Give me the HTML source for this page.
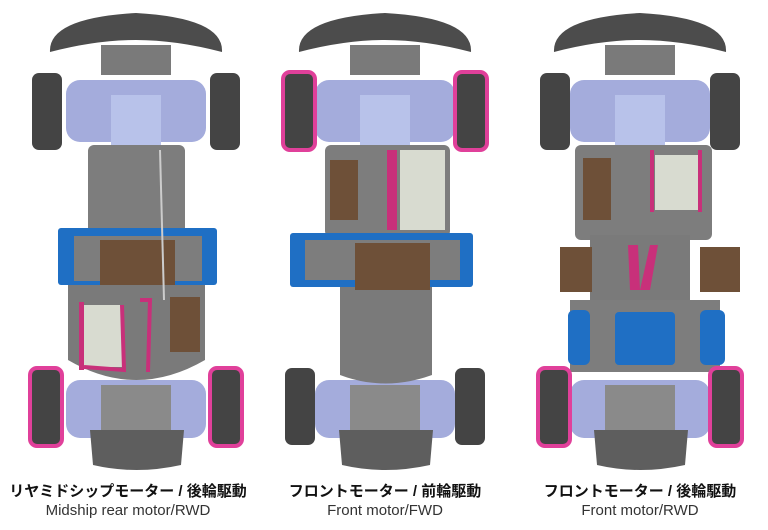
<!DOCTYPE html>
<html><head><meta charset="utf-8"><style>
html,body{margin:0;padding:0;background:#fff;width:768px;height:530px;overflow:hidden}
.t{position:absolute;width:256px;text-align:center;font-family:"Liberation Sans","Noto Sans CJK JP",sans-serif;color:#111}
.j{top:480px;font-size:15px;font-weight:bold}
.e{top:502px;font-size:15px;color:#333}
</style></head><body>
<svg width="768" height="530" style="position:absolute;left:0;top:0">
<defs>
<g id="base">
 <path d="M-86 52 Q-88 18 0 13 Q88 18 86 52 Q40 40 0 40 Q-40 40 -86 52Z" fill="#4c4c4c"/>
 <rect x="-35" y="45" width="70" height="30" fill="#7a7a7a"/>
 <rect x="-70" y="80" width="140" height="62" rx="14" fill="#a4acdc"/>
 <rect x="-25" y="95" width="50" height="60" fill="#b8c2ea"/>
 <rect x="-70" y="380" width="140" height="58" rx="14" fill="#a4acdc"/>
 <rect x="-35" y="385" width="70" height="50" fill="#8a8a8a"/>
 <path d="M-46 430 L48 430 L45 465 Q0 475 -43 465Z" fill="#5e5e5e"/>
</g>
<g id="lw"><rect width="30" height="77" rx="7" fill="#444"/></g>
<g id="pw"><rect width="32" height="78" rx="7" fill="#444" stroke="#e0409a" stroke-width="4"/></g>
</defs>

<!-- chassis 1 -->
<g transform="translate(136,0)">
 <use href="#base"/>
 <rect x="-48" y="145" width="97" height="90" rx="6" fill="#7d7d7d"/>
 <path d="M-68 282 L69 282 L69 360 Q0 400 -68 360Z" fill="#7a7a7a"/>
 <rect x="-78" y="228" width="159" height="57" rx="3" fill="#1f6fc4"/>
 <rect x="-62" y="236" width="128" height="45" fill="#7d7d7d"/>
 <rect x="-36" y="240" width="75" height="45" fill="#6e5038"/>
 <rect x="-57" y="302" width="5" height="68" fill="#c8307a"/>
 <rect x="-52" y="305" width="38" height="62" fill="#d8dbd0"/>
 <path d="M-52 367 L-12 370 L-14 305" fill="none" stroke="#c8307a" stroke-width="4"/>
 <path d="M4 300 L14 300 L12 372" fill="none" stroke="#c8307a" stroke-width="4"/>
 <rect x="34" y="297" width="30" height="55" fill="#6e5038"/>
 <line x1="24" y1="150" x2="28" y2="300" stroke="#ccc" stroke-width="2"/>
 <use href="#lw" x="-104" y="73"/>
 <use href="#lw" x="74" y="73"/>
 <use href="#pw" x="-106" y="368"/>
 <use href="#pw" x="74" y="368"/>
</g>

<!-- chassis 2 -->
<g transform="translate(385,0)">
 <use href="#base"/>
 <rect x="-60" y="145" width="125" height="92" rx="6" fill="#7d7d7d"/>
 <path d="M-45 285 L47 285 L47 375 Q0 392 -45 375Z" fill="#7a7a7a"/>
 <rect x="-95" y="233" width="183" height="54" rx="3" fill="#1f6fc4"/>
 <rect x="-80" y="240" width="155" height="40" fill="#7d7d7d"/>
 <rect x="-30" y="243" width="75" height="47" fill="#6e5038"/>
 <rect x="15" y="150" width="45" height="80" fill="#d8dbd0"/>
 <rect x="2" y="150" width="10" height="80" fill="#c8307a"/>
 <rect x="-55" y="160" width="28" height="60" fill="#6e5038"/>
 <use href="#pw" x="-102" y="72"/>
 <use href="#pw" x="70" y="72"/>
 <use href="#lw" x="-100" y="368"/>
 <use href="#lw" x="70" y="368"/>
</g>

<!-- chassis 3 -->
<g transform="translate(640,0)">
 <use href="#base"/>
 <rect x="-65" y="145" width="137" height="95" rx="6" fill="#7d7d7d"/>
 <rect x="-50" y="235" width="100" height="70" fill="#7a7a7a"/>
 <rect x="-70" y="300" width="150" height="72" fill="#7d7d7d"/>
 <rect x="-72" y="310" width="22" height="55" rx="6" fill="#1f6fc4"/>
 <rect x="60" y="310" width="25" height="55" rx="6" fill="#1f6fc4"/>
 <rect x="-25" y="312" width="60" height="53" rx="4" fill="#1f6fc4"/>
 <rect x="-80" y="247" width="32" height="45" fill="#6e5038"/>
 <rect x="60" y="247" width="40" height="45" fill="#6e5038"/>
 <rect x="15" y="155" width="43" height="55" fill="#d8dbd0"/>
 <path d="M12 150 L12 212 M60 150 L60 212" stroke="#c8307a" stroke-width="4"/>
 <rect x="-57" y="158" width="28" height="62" fill="#6e5038"/>
 <path d="M-12 245 L-2 245 L0 290 L10 245 L18 245 L10 290 L-10 290Z" fill="#c8307a"/>
 <use href="#lw" x="-100" y="73"/>
 <use href="#lw" x="70" y="73"/>
 <use href="#pw" x="-102" y="368"/>
 <use href="#pw" x="70" y="368"/>
</g>
</svg>
<div class="t j" style="left:0">リヤミドシップモーター / 後輪駆動</div>
<div class="t e" style="left:0">Midship rear motor/RWD</div>
<div class="t j" style="left:257px">フロントモーター / 前輪駆動</div>
<div class="t e" style="left:257px">Front motor/FWD</div>
<div class="t j" style="left:512px">フロントモーター / 後輪駆動</div>
<div class="t e" style="left:512px">Front motor/RWD</div>
</body></html>
